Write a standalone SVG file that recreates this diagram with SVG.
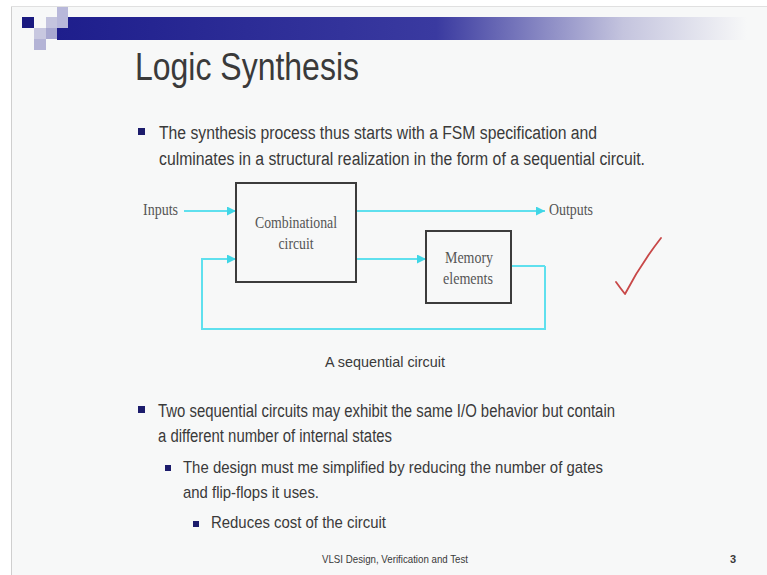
<svg xmlns="http://www.w3.org/2000/svg" width="767" height="575" viewBox="0 0 767 575">
<defs>
<linearGradient id="bar" x1="0" y1="0" x2="1" y2="0">
<stop offset="0" stop-color="#1e1e8c"/>
<stop offset="0.55" stop-color="#3a3aa0"/>
<stop offset="0.82" stop-color="#c4c4de"/>
<stop offset="1" stop-color="#f7f8f8"/>
</linearGradient>
<marker id="arr" viewBox="0 0 10 10" refX="10" refY="5" markerWidth="9" markerHeight="9" markerUnits="userSpaceOnUse" orient="auto">
<path d="M0,0 L10,5 L0,10 z" fill="#3fd6e6"/>
</marker>
<style>
.body{font-family:"Liberation Sans",Arial,sans-serif;fill:#3a3a3a}
.lbl{font-family:"Liberation Serif","Times New Roman",serif;font-size:16px;fill:#555}
.box{fill:none;stroke:#3c3c3c;stroke-width:2}
.wire{fill:none;stroke:#5fe0ee;stroke-width:2}
.bul{fill:#1c1c6c}
</style>
</defs>
<rect width="767" height="575" fill="#ffffff"/>
<rect x="11" y="6" width="756" height="569" fill="#f7f8f8"/>
<line x1="11.5" y1="6" x2="11.5" y2="575" stroke="#cfcfcf" stroke-width="1"/>
<line x1="11" y1="6.5" x2="767" y2="6.5" stroke="#e0e0e0" stroke-width="1"/>
<g id="header">
<rect x="57" y="17" width="690" height="23" fill="url(#bar)"/>
<rect x="22" y="17" width="12" height="11" fill="#1a1a80"/>
<rect x="34" y="28" width="12" height="11" fill="#c8c8e0"/>
<rect x="46" y="17" width="11" height="11" fill="#c4c4de"/>
<rect x="46" y="28" width="11" height="11" fill="#a8a8d0"/>
<rect x="57" y="7" width="11" height="21" fill="#b8b8da"/>
<rect x="34" y="39" width="12" height="11" fill="#b4b4d6"/>
</g>
<text class="body" x="135" y="80" font-size="38" textLength="224" lengthAdjust="spacingAndGlyphs" fill="#2e2e2e">Logic Synthesis</text>
<g id="bullet1">
<rect class="bul" x="138" y="128" width="7" height="7"/>
<text class="body" x="159" y="139" font-size="18" textLength="438" lengthAdjust="spacingAndGlyphs">The synthesis process thus starts with a FSM specification and</text>
<text class="body" x="159" y="165" font-size="18" textLength="486" lengthAdjust="spacingAndGlyphs">culminates in a structural realization in the form of a sequential circuit.</text>
</g>
<g id="connectors">
<line class="wire" x1="184" y1="211" x2="236" y2="211" marker-end="url(#arr)"/>
<polyline class="wire" points="545,266 545,329 202,329 202,259 236,259" marker-end="url(#arr)"/>
<line class="wire" x1="511" y1="266" x2="545" y2="266"/>
<line class="wire" x1="356" y1="259" x2="426" y2="259" marker-end="url(#arr)"/>
<line class="wire" x1="356" y1="211" x2="545" y2="211" marker-end="url(#arr)"/>
</g>
<g id="inputs"><text class="lbl" x="143" y="215" textLength="35" lengthAdjust="spacingAndGlyphs">Inputs</text></g>
<g id="outputs"><text class="lbl" x="549" y="215" textLength="44" lengthAdjust="spacingAndGlyphs">Outputs</text></g>
<g id="comb">
<rect class="box" x="236" y="183" width="120" height="99" fill="#f7f8f8"/>
<text class="lbl" x="296" y="228" text-anchor="middle" textLength="82" lengthAdjust="spacingAndGlyphs">Combinational</text>
<text class="lbl" x="296" y="249" text-anchor="middle" textLength="35" lengthAdjust="spacingAndGlyphs">circuit</text>
</g>
<g id="memory">
<rect class="box" x="426" y="231" width="85" height="72"/>
<text class="lbl" x="469" y="263" text-anchor="middle" textLength="48" lengthAdjust="spacingAndGlyphs">Memory</text>
<text class="lbl" x="468" y="284" text-anchor="middle" textLength="50" lengthAdjust="spacingAndGlyphs">elements</text>
</g>
<text class="body" x="325" y="367" font-size="15" textLength="120" lengthAdjust="spacingAndGlyphs">A sequential circuit</text>
<path d="M616,282 Q621,289 625,294 Q640,265 661,238" fill="none" stroke="#c84848" stroke-width="1.8" stroke-linecap="round" stroke-linejoin="round"/>
<g id="bullet2">
<rect class="bul" x="138" y="406" width="7" height="7"/>
<text class="body" x="158" y="417" font-size="18" textLength="457" lengthAdjust="spacingAndGlyphs">Two sequential circuits may exhibit the same I/O behavior but contain</text>
<text class="body" x="158" y="442" font-size="18" textLength="234" lengthAdjust="spacingAndGlyphs">a different number of internal states</text>
<rect class="bul" x="165" y="465" width="6" height="6"/>
<text class="body" x="183" y="473" font-size="17" textLength="420" lengthAdjust="spacingAndGlyphs">The design must me simplified by reducing the number of gates</text>
<text class="body" x="183" y="498" font-size="17" textLength="136" lengthAdjust="spacingAndGlyphs">and flip-flops it uses.</text>
<rect class="bul" x="193" y="521" width="6" height="6"/>
<text class="body" x="211" y="528" font-size="16" textLength="175" lengthAdjust="spacingAndGlyphs">Reduces cost of the circuit</text>
</g>
<text class="body" x="322" y="563" font-size="11" textLength="146" lengthAdjust="spacingAndGlyphs" fill="#555">VLSI Design, Verification and Test</text>
<text class="body" x="730" y="563" font-size="11" font-weight="bold" fill="#333">3</text>
</svg>
